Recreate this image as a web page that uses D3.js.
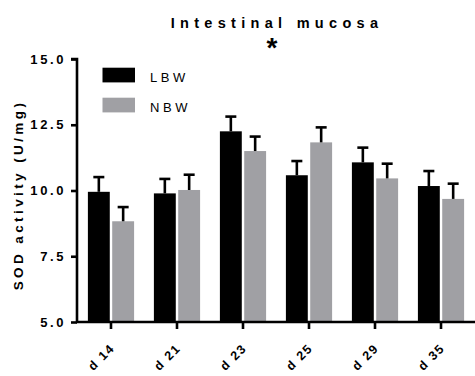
<!DOCTYPE html>
<html>
<head>
<meta charset="utf-8">
<script src="https://cdn.jsdelivr.net/npm/d3@7"></script>
<style>
  body { margin: 0; background: #fff; }
  text { font-family: "Liberation Sans", Arial, sans-serif; }
</style>
</head>
<body>
<svg id="chart" width="475" height="376"></svg>
<script>
// SOD activity in intestinal mucosa by day, LBW vs NBW (mean + SEM)
const days = ["d 14", "d 21", "d 23", "d 25", "d 29", "d 35"];
const groups = ["LBW", "NBW"];
const lbwMean = [9.95, 9.89, 12.25, 10.58, 11.07, 10.17];
const lbwSem  = [0.56, 0.55, 0.56, 0.54, 0.56, 0.57];
const nbwMean = [8.83, 10.02, 11.50, 11.83, 10.46, 9.68];
const nbwSem  = [0.54, 0.58, 0.55, 0.57, 0.56, 0.58];
const yTicks = [5.0, 7.5, 10.0, 12.5, 15.0];
const colors = { LBW: "#000000", NBW: "#a0a0a4" };

const svg = d3.select("#chart");
const y = d3.scaleLinear().domain([5, 15]).range([322, 59]);
const x = d3.scaleBand().domain(days).range([77, 475]).paddingInner(0.3).paddingOuter(0.165);
const sub = d3.scaleBand().domain(groups).range([0, x.bandwidth()]).paddingInner(0.1);

const rows = [];
days.forEach((d, i) => {
  rows.push({ day: d, g: "LBW", v: lbwMean[i], e: lbwSem[i] });
  rows.push({ day: d, g: "NBW", v: nbwMean[i], e: nbwSem[i] });
});

// bars
svg.append("g").selectAll("rect").data(rows).join("rect")
  .attr("x", r => x(r.day) + sub(r.g))
  .attr("width", sub.bandwidth())
  .attr("y", r => y(r.v))
  .attr("height", r => y(5) - y(r.v))
  .attr("fill", r => colors[r.g]);

// upper error bars
const eb = svg.append("g").attr("stroke", "#000").attr("stroke-width", 2.6);
rows.forEach(r => {
  const cx = x(r.day) + sub(r.g) + sub.bandwidth() / 2;
  eb.append("line").attr("x1", cx).attr("x2", cx).attr("y1", y(r.v)).attr("y2", y(r.v + r.e));
  eb.append("line").attr("x1", cx - 5.5).attr("x2", cx + 5.5).attr("y1", y(r.v + r.e)).attr("y2", y(r.v + r.e));
});

// y axis
const yAxis = svg.append("g").attr("transform", "translate(77,0)")
  .call(d3.axisLeft(y).tickValues(yTicks).tickFormat(d3.format(".1f")).tickSize(6).tickPadding(5));
yAxis.select(".domain").attr("stroke-width", 2.6).attr("d", `M-6,${y(15)}H0V${y(5)}`);
yAxis.selectAll(".tick line").attr("stroke-width", 2.6);
yAxis.selectAll(".tick text")
  .style("font-family", "Liberation Sans, Arial, sans-serif").style("font-weight", "bold")
  .style("font-size", "13px").style("letter-spacing", "2.6px").attr("fill", "#000");

// x axis: ticks from the axis generator, rotated labels drawn per tick
const xAxis = svg.append("g").attr("transform", `translate(0,${y(5)})`)
  .call(d3.axisBottom(x).tickSize(7).tickSizeOuter(0).tickFormat(""));
xAxis.select(".domain").attr("stroke-width", 2.6).attr("d", `M76,0H475`);
xAxis.selectAll(".tick line").attr("stroke-width", 2.6);
const xl = svg.append("g");
days.forEach(d => {
  const cx = x(d) + x.bandwidth() / 2;
  xl.append("g")
    .attr("transform", `translate(${cx + 4.5},${y(5) + 27}) rotate(-45)`)
    .append("text")
    .attr("text-anchor", "end")
    .style("font-weight", "bold").style("font-size", "12.5px").style("letter-spacing", "1.6px")
    .text(d);
});

// y label
svg.append("text")
  .attr("transform", "translate(23,195) rotate(-90)")
  .attr("text-anchor", "middle")
  .style("font-weight", "bold").style("font-size", "13.5px").style("letter-spacing", "3.4px")
  .text("SOD activity (U/mg)");

// title and significance marker
svg.append("text").attr("x", 277).attr("y", 27.5).attr("text-anchor", "middle")
  .style("font-weight", "bold").style("font-size", "14.5px").style("letter-spacing", "5.3px")
  .text("Intestinal mucosa");
svg.append("text").attr("x", 272).attr("y", 57).attr("text-anchor", "middle")
  .style("font-weight", "bold").style("font-size", "28px").text("*");

// legend
const lg = svg.append("g");
groups.forEach((g, i) => {
  lg.append("rect").attr("x", 102.5).attr("y", 67.7 + i * 30).attr("width", 32.5).attr("height", 14.7).attr("fill", colors[g]);
  lg.append("text").attr("x", 150).attr("y", 82 + i * 30)
    .style("font-size", "13px").style("letter-spacing", "3.6px")
    .text(g);
});
</script>
</body>
</html>
